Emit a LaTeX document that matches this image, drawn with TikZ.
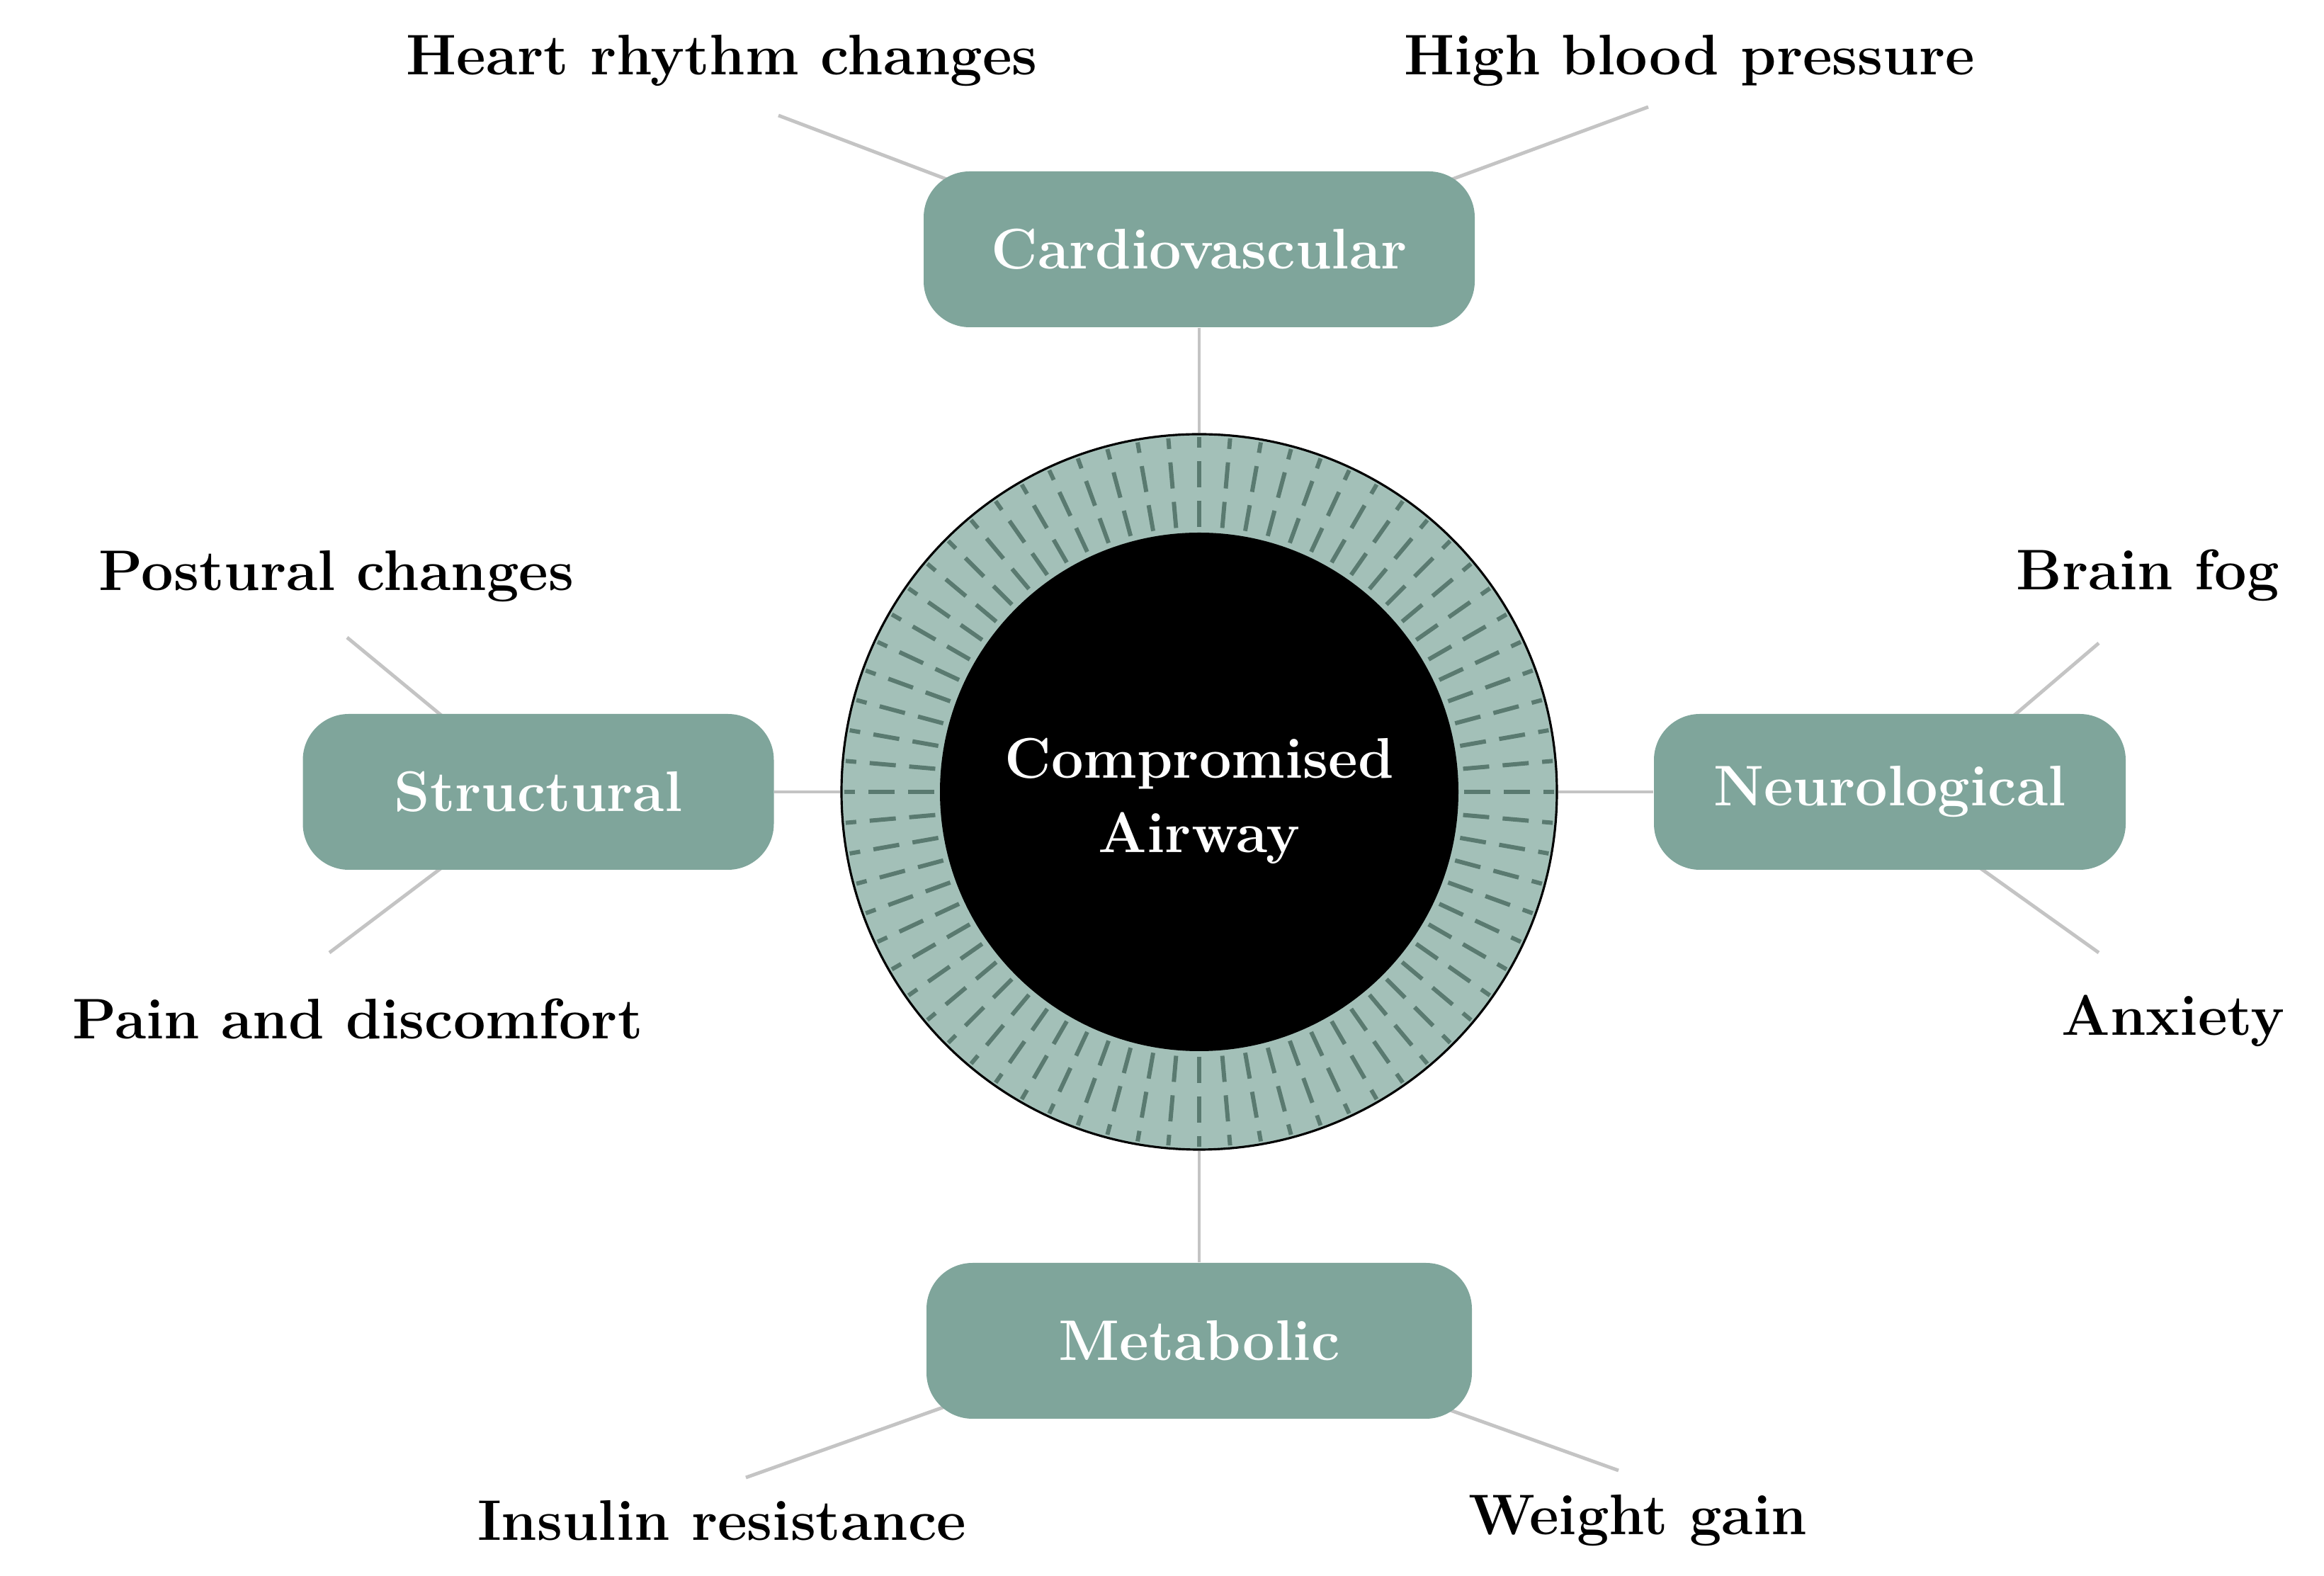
\documentclass[tikz,border=0pt]{standalone}
\usepackage{fontspec}
\usetikzlibrary{backgrounds,calc}
\definecolor{Sage}{HTML}{7FA59B}
\definecolor{RingFill}{HTML}{A3C0B8}
\definecolor{Tick}{HTML}{5A7A70}
\definecolor{Link}{HTML}{C4C4C4}
\newcommand{\labelfont}{\bfseries\fontsize{23}{30}\selectfont}

\begin{document}
\begin{tikzpicture}[
    grp/.style={fill=Sage,rounded corners=0.65cm,minimum height=2.2cm,
      text=white,font=\labelfont,inner sep=0pt},
    leaf/.style={font=\labelfont,inner sep=0pt},
    link/.style={draw=Link,line width=1.4pt}]
  \useasboundingbox (0,0) rectangle (32.81,22.25);
  % centre ring
  \node[circle,draw=black,line width=0.9pt,fill=RingFill,minimum size=10.1cm,inner sep=0pt] (ring) at (16.93,11.07) {};
  \node[circle,fill=black,minimum size=7.32cm,inner sep=0pt] (core) at (ring) {};
  \node[text=white,font=\labelfont,align=center] (core-txt) at ([yshift=-0.13cm]core) {Compromised\\Airway};
  \foreach \a in {0,5,...,355}
    \draw[Tick,line width=1.7pt,dash pattern=on 0.37cm off 0.19cm]
      (ring.center) ++(\a:3.74) -- ++(\a:1.27);
  % groups
  \node[grp,minimum width=7.78cm] (cardio) at (16.93,18.73) {Cardiovascular};
  \node[grp,minimum width=6.65cm] (struct) at (7.60,11.07) {Structural};
  \node[grp,minimum width=6.66cm] (neuro) at (26.68,11.07) {Neurological};
  \node[grp,minimum width=7.70cm] (metab) at (16.93,3.32) {Metabolic};
  % symptoms
  \node[leaf] (rhythm) at (10.19,21.39) {Heart rhythm changes};
  \node[leaf] (bp) at (23.85,21.39) {High blood pressure};
  \node[leaf] (posture) at (4.75,14.11) {Postural changes};
  \node[leaf] (pain) at (5.05,7.87) {Pain and discomfort};
  \node[leaf] (fog) at (30.32,14.13) {Brain fog};
  \node[leaf] (anx) at (30.68,7.84) {Anxiety};
  \node[leaf] (insulin) at (10.19,0.78) {Insulin resistance};
  \node[leaf] (weight) at (23.12,0.78) {Weight gain};
  % free ends of the spokes
  \coordinate (rhythm-e) at (10.99,20.62);
  \coordinate (bp-e) at (23.27,20.74);
  \coordinate (posture-e) at (4.90,13.25);
  \coordinate (pain-e) at (4.65,8.80);
  \coordinate (fog-e) at (29.63,13.17);
  \coordinate (anx-e) at (29.63,8.80);
  \coordinate (insulin-e) at (10.53,1.39);
  \coordinate (weight-e) at (22.85,1.49);
  \begin{scope}[on background layer]
    \draw[link] (cardio) -- (ring);
    \draw[link] (struct) -- (ring);
    \draw[link] (neuro) -- (ring);
    \draw[link] (metab) -- (ring);
    \draw[link] (rhythm-e) -- ([shift={(0.55,-0.2)}]cardio.north west);
    \draw[link] (bp-e) -- ([shift={(-0.55,-0.2)}]cardio.north east);
    \draw[link] (posture-e) -- ([shift={(-1.28,-0.1)}]struct.north);
    \draw[link] (pain-e) -- ([shift={(-1.28,0.1)}]struct.south);
    \draw[link] (fog-e) -- ([shift={(1.67,-0.1)}]neuro.north);
    \draw[link] (anx-e) -- ([shift={(1.18,0.1)}]neuro.south);
    \draw[link] (insulin-e) -- ([shift={(0.5,0.26)}]metab.south west);
    \draw[link] (weight-e) -- ([shift={(-0.57,0.22)}]metab.south east);
  \end{scope}
\end{tikzpicture}
\end{document}
